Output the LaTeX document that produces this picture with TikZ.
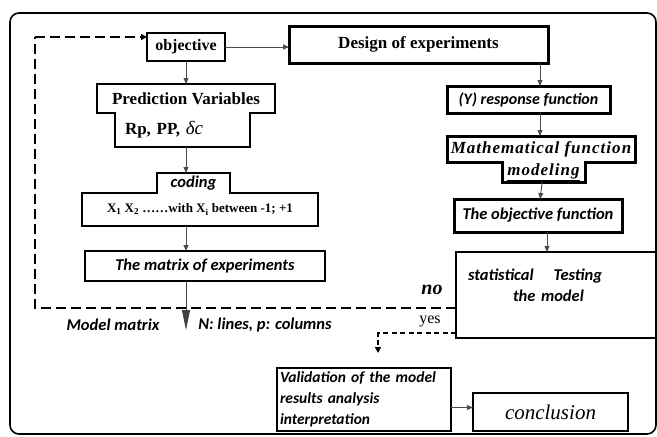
\documentclass[tikz,border=0pt]{standalone}
\usepackage{fontspec}
\setmainfont{Liberation Serif}
\newfontfamily\calibri{Carlito}
\newfontfamily\spacedserif[LetterSpace=6]{Liberation Serif}
\usetikzlibrary{arrows.meta,positioning}
\tikzset{box/.style={draw,line width=2.4pt,inner sep=0pt,outer sep=0pt,align=center},thinbox/.style={box,line width=1.8pt},thickbox/.style={box,line width=3pt},part/.style={inner sep=0pt,outer sep=0pt,align=center},sbf/.style={font=\bfseries\fontsize{#1}{#1}\selectfont},sbf/.default=17,cal/.style={font=\calibri\bfseries\itshape\fontsize{#1}{21}\selectfont},cal/.default=16.5,arr/.style={-{Triangle[length=6pt,width=5pt]},line width=0.9pt,draw=black!70},fb/.style={line width=2.2pt,dash pattern=on 10pt off 5pt},yesl/.style={line width=2pt,dash pattern=on 5pt off 3.5pt,-{Triangle[length=6pt,width=6pt]}}}
\begin{document}
\begin{tikzpicture}[x=1pt,y=1pt]
\useasboundingbox (0,0) rectangle (657,-437);
\draw[line width=1.6pt,rounded corners=9pt] (10,-13) rectangle (656,-434);
\node[box,sbf=16,minimum width=78pt,minimum height=28pt] (obj) at (186,-47) {objective};
\node[box,line width=3pt,sbf,minimum width=259pt,minimum height=37pt,right=64pt of obj,yshift=2.5pt] (doe) {Design of experiments};
\node[part,sbf,minimum width=178pt,minimum height=29pt,below=23pt of obj] (pv) {Prediction Variables};
\node[part,sbf,minimum width=135pt,minimum height=34pt,text width=115pt,align=left,below=0pt of pv,xshift=-3.5pt] (pvb) {Rp, PP, {\mdseries\itshape\fontsize{19}{19}\selectfont δc}};
\node[part,cal,minimum width=73pt,minimum height=20pt,below=26pt of pvb,xshift=11pt] (cod) {coding};
\node[part,sbf=13,minimum width=236pt,minimum height=33pt,below=0pt of cod,xshift=6.5pt] (codb) {X\textsubscript{1} X\textsubscript{2} ……with X\textsubscript{i} between -1; +1};
\node[thinbox,cal,minimum width=240pt,minimum height=30pt,below=25pt of codb,xshift=5pt] (mat) {The matrix of experiments};
\node[thickbox,cal=16,minimum width=163pt,minimum height=27pt,below=23pt of doe,xshift=110pt] (resp) {(Y) response function};
\node[part,font=\spacedserif\bfseries\itshape\fontsize{17}{17}\selectfont,minimum width=188pt,minimum height=26pt,below=23pt of resp,xshift=12.5pt] (mth) {Mathematical function};
\node[part,font=\spacedserif\bfseries\itshape\fontsize{17}{17}\selectfont,minimum width=83pt,minimum height=20pt,below=0pt of mth,xshift=2.5pt] (mthb) {\underline{modeling}};
\node[thickbox,cal,minimum width=168pt,minimum height=33pt,below=17pt of mthb,xshift=-5.5pt] (ofn) {The objective function};
\node[thinbox,cal,minimum width=200pt,minimum height=86pt,text width=176pt,align=left,text depth=40pt,below=20pt of ofn,xshift=18pt] (stat) {statistical\hspace{20pt}Testing\\\hspace*{45pt}the model};
\node[thinbox,cal=15.5,minimum width=174pt,minimum height=63pt,text width=168pt,align=left] (val) at (364,-399.5) {Validation of the model\\results analysis\\interpretation};
\node[box,font=\itshape\fontsize{21}{21}\selectfont,minimum width=155pt,minimum height=38pt,right=22pt of val,yshift=-12.5pt] (conc) {conclusion};
\foreach \t/\b/\w in {pv/pvb/2.4pt,cod/codb/2.4pt,mth/mthb/3pt}{\draw[line width=\w] (\t.north west)--(\t.north east)--(\t.south east)--(\b.north east)--(\b.south east)--(\b.south west)--(\b.north west)--(\t.south west)--cycle;}
\coordinate (rc) at (540,0);\coordinate (mm) at (186,-330);\coordinate (nl) at (35,-308);\coordinate (nt) at (35,-37);\coordinate (yc) at (378,-333);\coordinate (ye) at (378,-353);
\draw[arr] (obj.east)--(obj.east-|doe.west);\draw[arr] (obj)--(pv);\draw[arr] (pvb.south-|obj)--(cod.north-|obj);\draw[arr] (codb.south-|obj)--(mat.north-|obj);
\draw[-{Triangle[length=20pt,width=8pt]},line width=1pt,draw=black!75] (mat.south-|obj)--(mm);
\draw[arr] (doe.south-|rc)--(resp.north-|rc);\draw[arr] (resp.south-|rc)--(mth.north-|rc);\draw[arr] (mthb)--(ofn);\draw[arr] ([xshift=9pt]ofn.south)--([xshift=9pt]ofn.south|-stat.north);
\draw[fb] (nl-|stat.west)--(nl)--(nt);\draw[fb,-{Triangle[length=6pt,width=6pt]}] (nt)--(nt-|obj.west);
\draw[yesl] (yc-|stat.west)--(yc)--(ye);\draw[arr] ([yshift=-8pt]val.east)--([yshift=-8pt]val.east-|conc.west);
\node[font=\bfseries\itshape\fontsize{20}{20}\selectfont] (nolbl) at (432,-290) {no};
\node[font=\fontsize{16}{16}\selectfont] (yeslbl) at (430,-321) {yes};
\node[cal] (mmlbl) at (113,-325) {Model matrix};
\node[cal] (nplbl) at (265,-325) {N: lines, p: columns};
\end{tikzpicture}
\end{document}
